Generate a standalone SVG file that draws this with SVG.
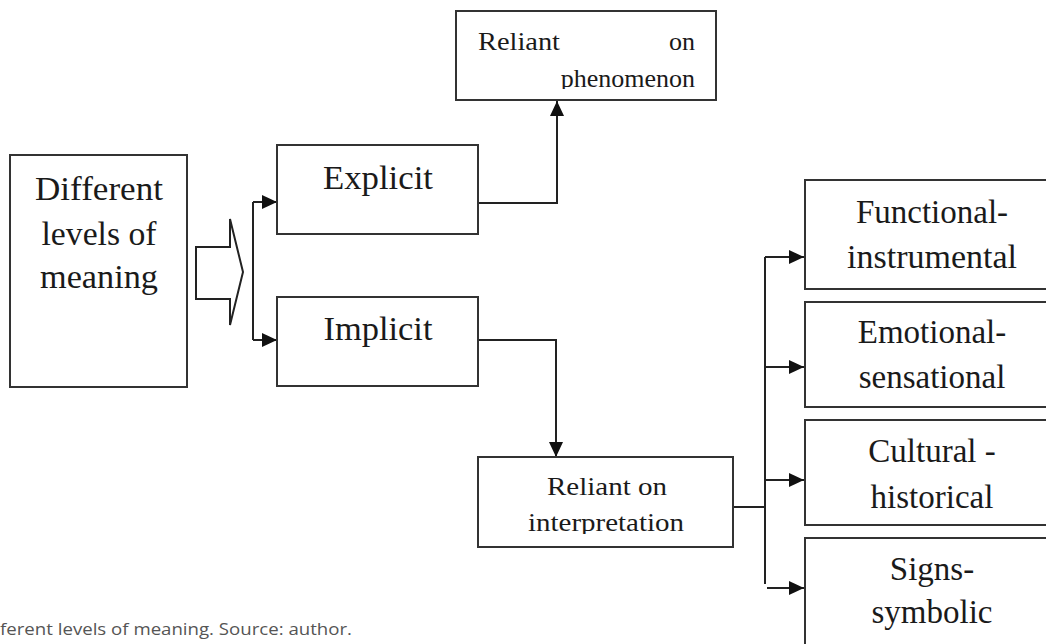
<svg xmlns="http://www.w3.org/2000/svg" width="1046" height="644" viewBox="0 0 1046 644">
<style>
.box{fill:#fff;stroke:#333;stroke-width:2}
.t{font-family:"Liberation Serif","Times New Roman",serif;fill:#1a1a1a;text-anchor:middle}
.big{font-size:33px}
.sm{font-size:26px}
.c{fill:none;stroke:#222;stroke-width:2}
.cap{font-family:"Open Sans","Noto Sans",sans-serif;font-size:16px;fill:#555}
</style>
<defs>
<marker id="ah" markerUnits="userSpaceOnUse" markerWidth="15" markerHeight="14" refX="15" refY="7" orient="auto">
<path d="M0,0 L15,7 L0,14 z" fill="#111"/>
</marker>
<clipPath id="clipTop"><rect x="450" y="0" width="280" height="89"/></clipPath>
<clipPath id="clipInt"><rect x="470" y="450" width="270" height="84"/></clipPath>
</defs>
<rect width="1046" height="644" fill="#fff"/>

<g id="connectors">
<polygon class="c" points="196,247 230,247 230,219 243,272 230,325 230,299 196,299" fill="#fff"/>
<path class="c" d="M253,202 V340"/>
<path class="c" d="M253,202 H277" marker-end="url(#ah)"/>
<path class="c" d="M253,340 H277" marker-end="url(#ah)"/>
<path class="c" d="M478,203 H557 V101" marker-end="url(#ah)"/>
<path class="c" d="M478,340 H556 V457" marker-end="url(#ah)"/>
<path class="c" d="M733,507 H765"/>
<path class="c" d="M765,257 V584"/>
<path class="c" d="M765,257 H804" marker-end="url(#ah)"/>
<path class="c" d="M765,367 H804" marker-end="url(#ah)"/>
<path class="c" d="M765,480 H804" marker-end="url(#ah)"/>
<path class="c" d="M767,588 H804" marker-end="url(#ah)"/>
</g>

<g id="node-different">
<rect class="box" x="10" y="155" width="177" height="232"/>
<text class="t big" x="99" y="200" textLength="128" lengthAdjust="spacingAndGlyphs">Different</text>
<text class="t big" x="99" y="245" textLength="115" lengthAdjust="spacingAndGlyphs">levels of</text>
<text class="t big" x="99" y="288" textLength="118" lengthAdjust="spacingAndGlyphs">meaning</text>
</g>

<g id="node-explicit">
<rect class="box" x="277" y="145" width="201" height="89"/>
<text class="t big" x="378" y="189" textLength="110" lengthAdjust="spacingAndGlyphs">Explicit</text>
</g>

<g id="node-implicit">
<rect class="box" x="277" y="297" width="201" height="89"/>
<text class="t big" x="378" y="340" textLength="109" lengthAdjust="spacingAndGlyphs">Implicit</text>
</g>

<g id="node-phenomenon">
<rect class="box" x="456" y="11" width="260" height="89"/>
<text class="t sm" style="text-anchor:start" x="478" y="50" textLength="82" lengthAdjust="spacingAndGlyphs">Reliant</text>
<text class="t sm" style="text-anchor:end" x="695" y="50">on</text>
<text class="t sm" style="text-anchor:end" x="695" y="87" clip-path="url(#clipTop)">phenomenon</text>
</g>

<g id="node-interpretation">
<rect class="box" x="478" y="457" width="255" height="90"/>
<text class="t sm" x="607" y="495" textLength="120" lengthAdjust="spacingAndGlyphs">Reliant on</text>
<text class="t sm" x="606" y="531" textLength="156" lengthAdjust="spacingAndGlyphs" clip-path="url(#clipInt)">interpretation</text>
</g>

<g id="node-functional">
<rect class="box" x="805" y="180" width="260" height="109"/>
<text class="t big" x="932" y="223">Functional-</text>
<text class="t big" x="932" y="268" textLength="170" lengthAdjust="spacingAndGlyphs">instrumental</text>
</g>

<g id="node-emotional">
<rect class="box" x="805" y="302" width="260" height="105"/>
<text class="t big" x="932" y="343">Emotional-</text>
<text class="t big" x="932" y="388">sensational</text>
</g>

<g id="node-cultural">
<rect class="box" x="805" y="420" width="260" height="105"/>
<text class="t big" x="932" y="462">Cultural -</text>
<text class="t big" x="932" y="508">historical</text>
</g>

<g id="node-signs">
<rect class="box" x="805" y="538" width="260" height="120"/>
<text class="t big" x="932" y="580">Signs-</text>
<text class="t big" x="932" y="623">symbolic</text>
</g>

<text class="cap" x="0" y="635" textLength="352" lengthAdjust="spacingAndGlyphs">ferent levels of meaning. Source: author.</text>
</svg>
